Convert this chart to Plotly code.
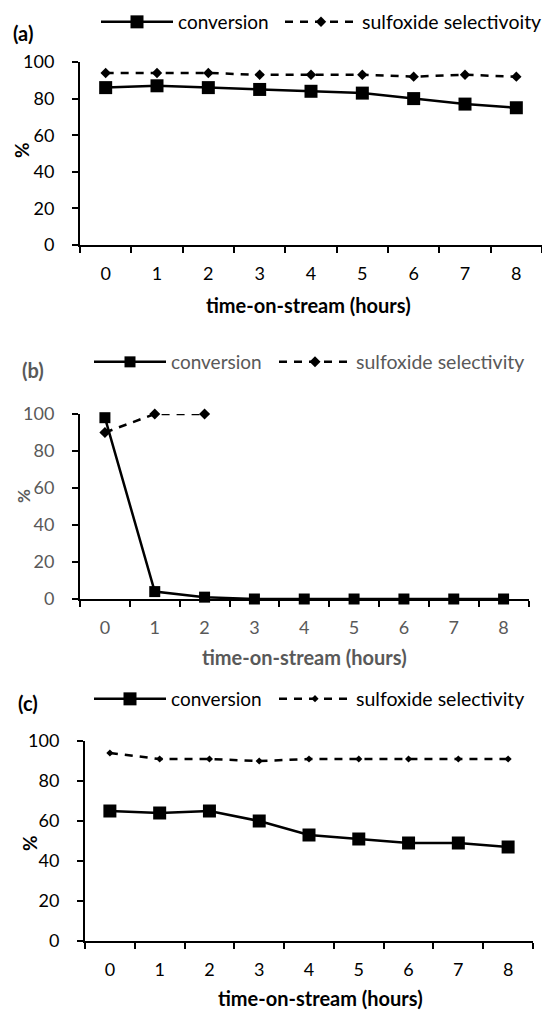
import plotly.graph_objects as go

# ---- data ----
hours = ["0", "1", "2", "3", "4", "5", "6", "7", "8"]

conv_a = [86, 87, 86, 85, 84, 83, 80, 77, 75]
sel_a = [94, 94, 94, 93, 93, 93, 92, 93, 92]

conv_b = [98, 4, 1, 0, 0, 0, 0, 0, 0]
sel_b = [90, 100, 100, None, None, None, None, None, None]

conv_c = [65, 64, 65, 60, 53, 51, 49, 49, 47]
sel_c = [94, 91, 91, 90, 91, 91, 91, 91, 91]

y_ticks = [0, 20, 40, 60, 80, 100]
panel_labels = ["(a)", "(b)", "(c)"]
sel_names = ["sulfoxide selectivoity", "sulfoxide selectivity", "sulfoxide selectivity"]
x_title = "time-on-stream (hours)"
y_title = "%"

W, H = 542, 1011
FONT = "Lato"

def px_x(v):
    return v / W

def px_y(v):
    return (H - v) / H

panels = [
    dict(x0=80, x1=542, yt=62, yb=245, col="#000000", sq=13, di=8, lab=(23, 33), pct=(21, 150),
         pctsize=19, xt=(308, 305), ly=22, lx1=96, lx2=280),
    dict(x0=80, x1=528.5, yt=414, yb=599, col="#595959", sq=11, di=8.5, lab=(33, 370), pct=(23, 496),
         pctsize=17, xt=(304, 657), ly=362, lx1=89, lx2=274),
    dict(x0=85, x1=533, yt=741, yb=941, col="#000000", sq=13, di=5.5, lab=(27.5, 703), pct=(29, 843),
         pctsize=19, xt=(320, 998), ly=699, lx1=89, lx2=274),
]
conv_sets = [conv_a, conv_b, conv_c]
sel_sets = [sel_a, sel_b, sel_c]

fig = go.Figure()
annotations = []
layout_upd = {}

for i, p in enumerate(panels):
    n = "" if i == 0 else str(i + 1)
    xa = "x" + n
    ya = "y" + n
    lg1 = "legend" + ("" if i == 0 else str(i + 1))
    lg2 = "legend" + str(i + 4)
    fig.add_trace(go.Scatter(
        x=hours, y=conv_sets[i], mode="lines+markers", name="conversion",
        line=dict(color="black", width=2.5),
        marker=dict(symbol="square", size=p["sq"], color="black"),
        xaxis=xa, yaxis=ya, legend=lg1, cliponaxis=False,
    ))
    fig.add_trace(go.Scatter(
        x=hours, y=sel_sets[i], mode="lines+markers", name=sel_names[i],
        line=dict(color="black", width=2.5, dash="8px,7px"),
        marker=dict(symbol="diamond", size=p["di"], color="black"),
        xaxis=xa, yaxis=ya, legend=lg2, cliponaxis=False, connectgaps=False,
    ))
    layout_upd["xaxis" + n] = dict(
        domain=[px_x(p["x0"]), min(1.0, px_x(p["x1"]))], anchor=ya, type="category",
        tickson="boundaries", ticks="outside", ticklen=6, tickwidth=1.5, tickcolor="black",
        showline=True, linecolor="black", linewidth=2, showgrid=False, zeroline=False,
        tickfont=dict(family=FONT, size=18, color=p["col"]), ticklabelstandoff=11,
        range=[-0.5, 8.5], fixedrange=True, automargin=False,
    )
    layout_upd["yaxis" + n] = dict(
        domain=[px_y(p["yb"]), px_y(p["yt"])], anchor=xa, range=[0, 100],
        tickvals=y_ticks, ticks="outside", ticklen=6, tickwidth=1.5, tickcolor="black",
        showline=True, linecolor="black", linewidth=2, showgrid=False, zeroline=False,
        tickfont=dict(family=FONT, size=18, color=p["col"]), ticklabelstandoff=14,
        fixedrange=True, automargin=False,
    )
    for lg, lx, fs in ((lg1, p["lx1"], 19), (lg2, p["lx2"], 19.5)):
        layout_upd[lg] = dict(
            orientation="h", x=px_x(lx), y=px_y(p["ly"]), xanchor="left", yanchor="middle",
            font=dict(family=FONT, size=fs, color=p["col"]), bgcolor="rgba(0,0,0,0)",
            itemwidth=72,
        )
    annotations.append(dict(text="<b>%s</b>" % panel_labels[i], x=px_x(p["lab"][0]), y=px_y(p["lab"][1]),
                            xref="paper", yref="paper", showarrow=False,
                            font=dict(family=FONT, size=20, color=p["col"]), xanchor="center", yanchor="middle"))
    annotations.append(dict(text="<b>%s</b>" % x_title, x=px_x(p["xt"][0]), y=px_y(p["xt"][1]),
                            xref="paper", yref="paper", showarrow=False,
                            font=dict(family=FONT, size=20, color=p["col"]), xanchor="center", yanchor="middle"))
    annotations.append(dict(text="<b>%s</b>" % y_title, x=px_x(p["pct"][0]), y=px_y(p["pct"][1]),
                            xref="paper", yref="paper", showarrow=False, textangle=-90,
                            font=dict(family=FONT, size=p["pctsize"], color=p["col"]),
                            xanchor="center", yanchor="middle"))

fig.update_layout(
    width=W, height=H, margin=dict(l=0, r=0, t=0, b=0, autoexpand=False),
    paper_bgcolor="white", plot_bgcolor="white",
    showlegend=True, annotations=annotations, **layout_upd,
)

fig.write_html(
    "out.html",
    config={"displayModeBar": False},
    post_script="document.body.style.margin='0';document.body.style.padding='0';document.body.style.overflow='hidden';",
)
